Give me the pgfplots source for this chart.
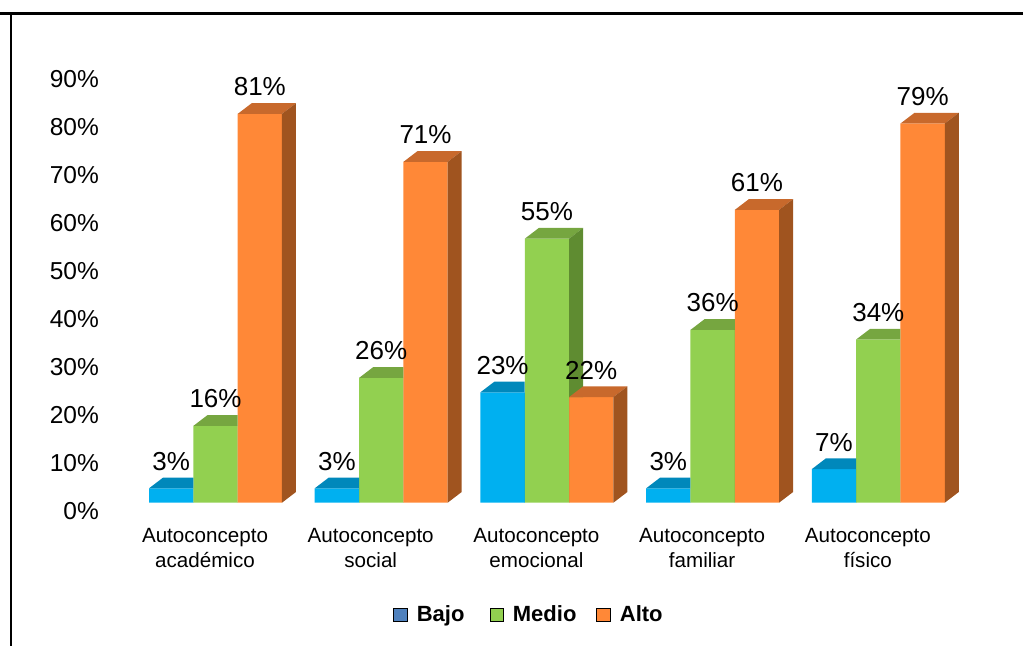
\documentclass[border=0pt]{standalone}
\usepackage{fontspec}
\setmainfont{Liberation Sans}
\usepackage{pgfplots}
\usepackage{pgfplotstable}
\pgfplotsset{compat=1.18}

\definecolor{bajo}{HTML}{00B0F0}
\definecolor{bajotop}{HTML}{0088BB}
\definecolor{bajoside}{HTML}{007AA8}
\definecolor{medio}{HTML}{92D050}
\definecolor{mediotop}{HTML}{76A640}
\definecolor{medioside}{HTML}{5F8C31}
\definecolor{alto}{HTML}{FF8837}
\definecolor{altotop}{HTML}{C8692C}
\definecolor{altoside}{HTML}{A0541F}
\definecolor{bajoleg}{HTML}{4F81BD}

% bar geometry (1px of the reference = 0.5pt)
\def\hw{11.07pt}
\def\dx{7pt}
\def\dy{5.35pt}
\def\yu{2.4pt}

% top + side face of a 3d bar, drawn at the front top centre;
% the part hidden by the next bar of the group (height \nexth) is clipped away
\newcommand\boxmark[3]{%
  \pgfdeclareplotmark{#1}{%
    \pgfscope
    \pgfpathrectanglecorners{\pgfpoint{-60pt}{-300pt}}{\pgfpoint{60pt}{300pt}}%
    \pgfpathrectanglecorners{\pgfpoint{\hw}{-\barh*\yu}}{\pgfpoint{3*\hw}{(\nexth-\barh)*\yu}}%
    \pgfseteorule\pgfusepath{clip}%
    \pgfsetfillcolor{#2}%
    \pgfpathmoveto{\pgfpoint{-\hw}{0pt}}%
    \pgfpathlineto{\pgfpoint{-\hw+\dx}{\dy}}%
    \pgfpathlineto{\pgfpoint{\hw+\dx}{\dy}}%
    \pgfpathlineto{\pgfpoint{\hw}{0pt}}%
    \pgfpathclose\pgfusepath{fill}%
    \pgfsetfillcolor{#3}%
    \pgfpathmoveto{\pgfpoint{\hw}{0pt}}%
    \pgfpathlineto{\pgfpoint{\hw+\dx}{\dy}}%
    \pgfpathlineto{\pgfpoint{\hw+\dx}{\dy-\barh*\yu}}%
    \pgfpathlineto{\pgfpoint{\hw}{-\barh*\yu}}%
    \pgfpathclose\pgfusepath{fill}%
    \endpgfscope}}
\boxmark{cubeB}{bajotop}{bajoside}
\boxmark{cubeM}{mediotop}{medioside}
\boxmark{cubeA}{altotop}{altoside}

\pgfplotstableread{
g bajo medio alto
0 3 16 81
1 3 26 71
2 23 55 22
3 3 36 61
4 7 34 79
}\datos

\def\bw{0.2675}

\begin{document}
\begin{tikzpicture}
\path[use as bounding box] (0,0) rectangle (511.5pt,323pt);
\draw[line width=1.5pt] (0,316.25pt) -- (511.5pt,316.25pt);
\draw[line width=1pt] (5.5pt,316.25pt) -- (5.5pt,0);
\begin{axis}[
    at={(58.05pt,71.65pt)}, anchor=south west,
    x=82.85pt, y=\yu,
    xmin=-0.6, xmax=4.7, ymin=0, ymax=92,
    clip=false,
    axis line style={draw=none},
    major tick length=0pt,
    /pgf/number format/assume math mode=true,
    ytick={0,10,...,90},
    yticklabels={0\%,10\%,20\%,30\%,40\%,50\%,60\%,70\%,80\%,90\%},
    yticklabel style={font=\fontsize{12.25}{14}\selectfont, anchor=base east,
        inner sep=0pt, xshift=-8.4pt, yshift=-8.35pt},
    xtick={0,...,4},
    xticklabels={Autoconcepto\\académico, Autoconcepto\\social,
        Autoconcepto\\emocional, Autoconcepto\\familiar, Autoconcepto\\físico},
    xticklabel style={font=\fontsize{10.3}{12.5}\selectfont, align=center,
        anchor=north, inner sep=0pt, xshift=-5.25pt, yshift=-12.6pt},
    bar width=\bw, bar shift=0pt,
    every node near coord/.append style={font=\fontsize{13}{15}\selectfont,
        anchor=base, inner sep=0pt, yshift=9pt, text=black},
    legend image code/.code={\fill[#1] (0pt,-3.2pt) rectangle (6.6pt,3.2pt);},
    legend columns=3,
    legend style={at={(axis cs:1.886,-23.4)}, anchor=center, draw=none,
        font=\bfseries\fontsize{11}{13}\selectfont,
        nodes={inner sep=0pt},
        /tikz/column 1/.style={column sep=4.7pt},
        /tikz/column 2/.style={column sep=12.5pt},
        /tikz/column 3/.style={column sep=4.7pt},
        /tikz/column 4/.style={column sep=10pt},
        /tikz/column 5/.style={column sep=4.7pt}},
]
% Bajo
\addplot[ybar, fill=bajo, draw=none, forget plot]
    table[x expr=\thisrow{g}-\bw, y=bajo] {\datos};
\addplot[scatter, only marks, mark=cubeB, forget plot,
    visualization depends on={\thisrow{bajo}\as\barh},
    visualization depends on={\thisrow{medio}\as\nexth}]
    table[x expr=\thisrow{g}-\bw, y=bajo] {\datos};
% Medio
\addplot[ybar, fill=medio, draw=none, forget plot]
    table[x=g, y=medio] {\datos};
\addplot[scatter, only marks, mark=cubeM, forget plot,
    visualization depends on={\thisrow{medio}\as\barh},
    visualization depends on={\thisrow{alto}\as\nexth}]
    table[x=g, y=medio] {\datos};
% Alto
\addplot[ybar, fill=alto, draw=none, forget plot]
    table[x expr=\thisrow{g}+\bw, y=alto] {\datos};
\addplot[scatter, only marks, mark=cubeA, forget plot,
    visualization depends on={\thisrow{alto}\as\barh},
    visualization depends on={0\as\nexth}]
    table[x expr=\thisrow{g}+\bw, y=alto] {\datos};
% value labels on top
\addplot[only marks, mark=none, forget plot,
    nodes near coords={\pgfmathprintnumber{\pgfplotspointmeta}\%}]
    table[x expr=\thisrow{g}-\bw, y=bajo] {\datos};
\addplot[only marks, mark=none, forget plot,
    nodes near coords={\pgfmathprintnumber{\pgfplotspointmeta}\%}]
    table[x=g, y=medio] {\datos};
\addplot[only marks, mark=none, forget plot,
    nodes near coords={\pgfmathprintnumber{\pgfplotspointmeta}\%}]
    table[x expr=\thisrow{g}+\bw, y=alto] {\datos};

\addlegendimage{fill=bajoleg}\addlegendentry{Bajo}
\addlegendimage{fill=medio}\addlegendentry{Medio}
\addlegendimage{fill=alto}\addlegendentry{Alto}
\end{axis}
\end{tikzpicture}
\end{document}
